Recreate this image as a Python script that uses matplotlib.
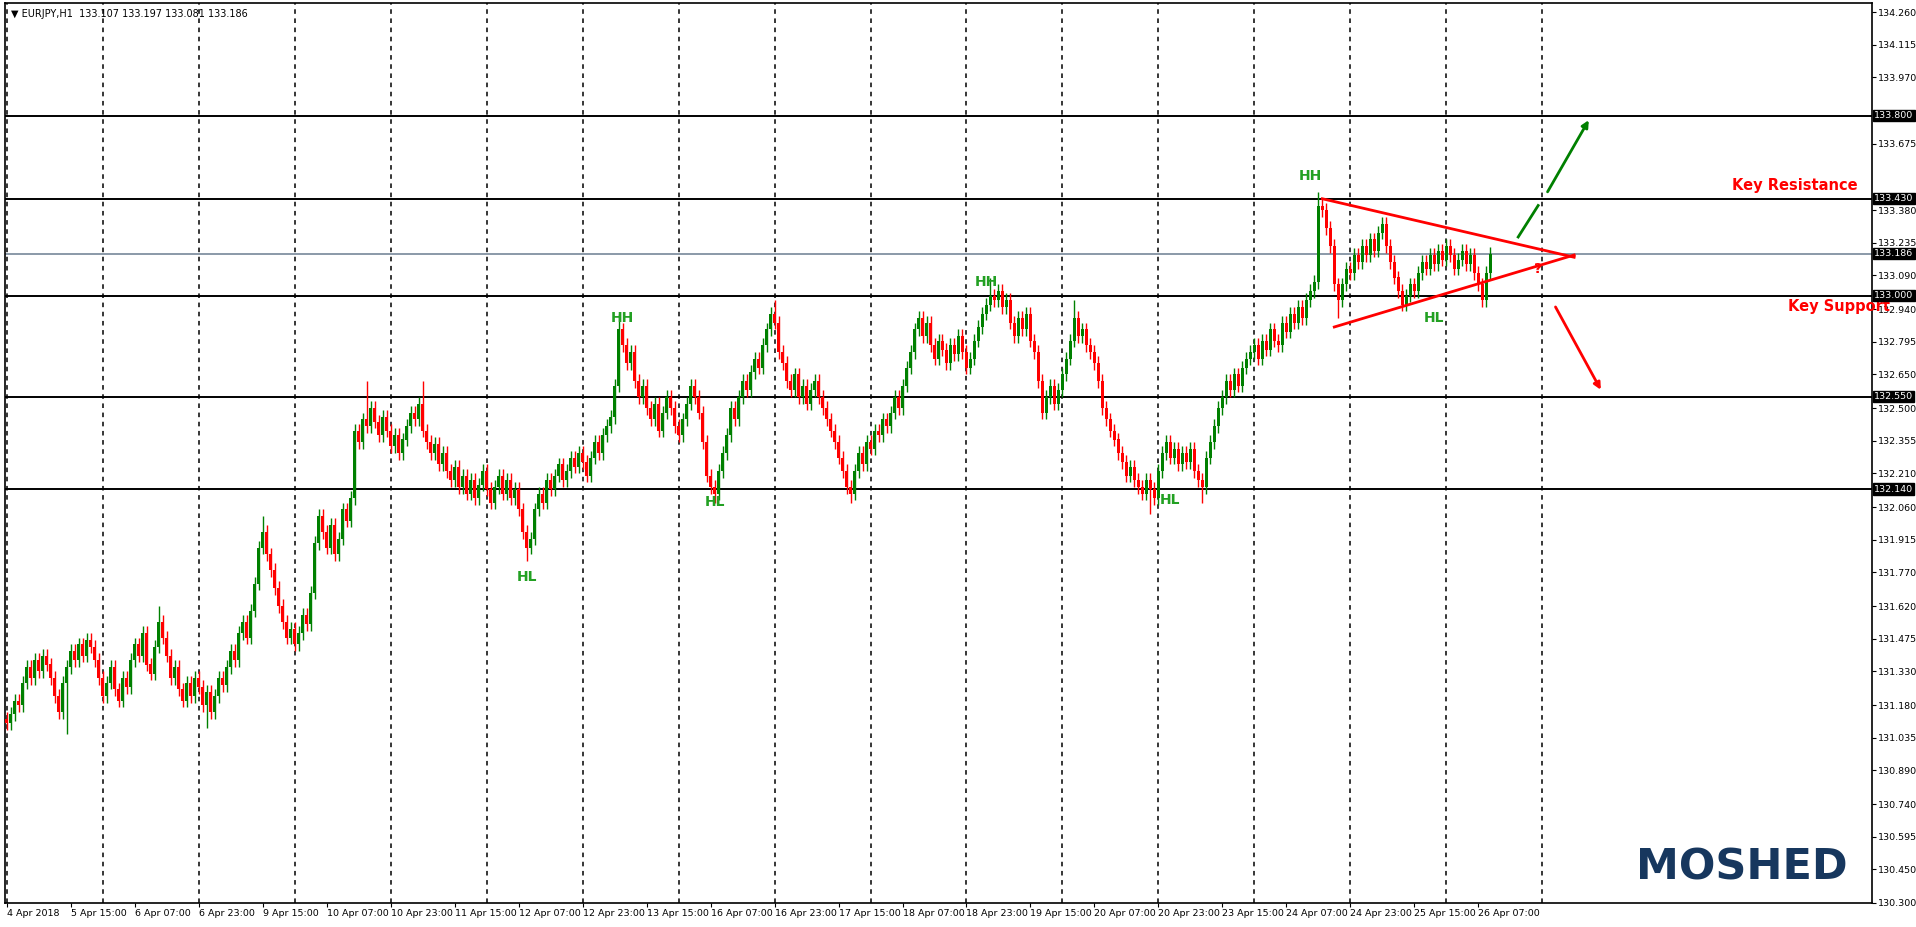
import numpy as np
import matplotlib
matplotlib.use("Agg")
import matplotlib.pyplot as plt

# hourly closes (open = previous close)
closes = [
    131.10, 131.14, 131.20, 131.18, 131.28, 131.35, 131.30, 131.38, 131.33, 131.40, 131.36, 131.30,
    131.22, 131.15, 131.28, 131.35, 131.42, 131.38, 131.45, 131.40, 131.47, 131.44, 131.38,
    131.30, 131.22, 131.28, 131.35, 131.25, 131.20, 131.30, 131.26, 131.38,
    131.45, 131.40, 131.50, 131.36, 131.32, 131.44, 131.55, 131.48, 131.40, 131.30, 131.35,
    131.25, 131.20, 131.28, 131.22, 131.30, 131.26, 131.18, 131.24, 131.15, 131.22, 131.30, 131.27,
    131.35, 131.42, 131.38, 131.50, 131.55, 131.48, 131.60, 131.72, 131.88, 131.95, 131.85,
    131.78, 131.70, 131.62, 131.55, 131.48, 131.52, 131.45, 131.50, 131.58, 131.54,
    131.68, 131.90, 132.02, 131.95, 131.88, 131.98, 131.85, 131.92, 132.05, 132.00, 132.10,
    132.40, 132.35, 132.45, 132.42, 132.50, 132.44, 132.38, 132.46, 132.40, 132.33, 132.38,
    132.30, 132.36, 132.42, 132.48, 132.45, 132.52, 132.40, 132.35, 132.30, 132.34,
    132.25, 132.30, 132.22, 132.18, 132.24, 132.15, 132.20, 132.12, 132.18, 132.10, 132.16,
    132.22, 132.14, 132.08, 132.15, 132.20, 132.12, 132.18, 132.10, 132.14, 132.05, 131.95, 131.88,
    131.92, 132.05, 132.12, 132.08, 132.18, 132.14, 132.20, 132.25, 132.18, 132.22, 132.28,
    132.24, 132.30, 132.26, 132.20, 132.28, 132.35, 132.30, 132.38, 132.42, 132.46,
    132.60, 132.85, 132.78, 132.70, 132.75, 132.62, 132.55, 132.60, 132.50, 132.45, 132.52,
    132.40, 132.48, 132.55, 132.50, 132.42, 132.38, 132.45, 132.52, 132.60, 132.55, 132.48,
    132.35, 132.20, 132.15, 132.12, 132.22,
    132.30, 132.38, 132.50, 132.45, 132.55, 132.62, 132.58, 132.66, 132.72, 132.68, 132.78,
    132.85, 132.92, 132.88,
    132.75, 132.70, 132.62, 132.58, 132.65, 132.55, 132.60, 132.52, 132.58, 132.62, 132.55,
    132.50, 132.45, 132.40, 132.35, 132.28, 132.22, 132.15,
    132.12, 132.22, 132.30, 132.25, 132.35, 132.32, 132.40, 132.38, 132.45, 132.42, 132.48,
    132.55, 132.50, 132.60,
    132.68, 132.75, 132.85, 132.90, 132.82, 132.88, 132.78, 132.72, 132.80, 132.76,
    132.70, 132.78, 132.74, 132.82, 132.75, 132.68, 132.72, 132.80, 132.86,
    132.92, 132.96, 133.00, 132.98, 133.02, 132.95, 132.98,
    132.88, 132.82, 132.90, 132.85, 132.92, 132.80, 132.75, 132.62,
    132.48, 132.55, 132.60, 132.52, 132.58, 132.65, 132.72, 132.80, 132.90, 132.82, 132.85,
    132.78, 132.75, 132.70,
    132.62, 132.50, 132.45, 132.40, 132.36, 132.30, 132.26, 132.20, 132.24, 132.18, 132.15,
    132.12, 132.18, 132.14, 132.10,
    132.22, 132.30, 132.35, 132.28, 132.32, 132.25, 132.30, 132.26, 132.32, 132.22, 132.18, 132.15,
    132.28, 132.35, 132.42, 132.50, 132.55, 132.62, 132.58, 132.65, 132.60, 132.68, 132.72, 132.75,
    132.78, 132.72, 132.80, 132.76, 132.85, 132.80, 132.78, 132.88, 132.84, 132.92, 132.88,
    132.95, 132.90, 132.98, 133.02, 133.06,
    133.40, 133.38, 133.30, 133.22, 133.05, 132.98,
    133.05, 133.12, 133.10, 133.18, 133.15, 133.22, 133.18, 133.25, 133.20, 133.28, 133.32,
    133.22, 133.15,
    133.08, 133.02, 132.96, 133.00, 133.05, 133.02,
    133.10, 133.15, 133.12, 133.18, 133.14, 133.20, 133.16, 133.22, 133.18, 133.12, 133.16,
    133.20, 133.14, 133.18, 133.10, 133.05, 132.98, 133.10, 133.186,
]
first_open = 131.12
wick = 0.03
# notable wick extremes: bar -> (high, low); None keeps the default
extremes = {15: (None, 131.05), 38: (131.62, None), 50: (None, 131.08), 64: (132.02, None),
            90: (132.62, None), 104: (132.62, None), 130: (None, 131.82), 153: (132.92, None),
            177: (None, 132.08), 192: (132.98, None), 211: (None, 132.08), 246: (133.08, None),
            267: (132.98, None), 286: (None, 132.03), 299: (None, 132.08), 328: (133.46, None),
            333: (None, 132.90), 370: (None, 132.95)}

levels = [133.80, 133.43, 133.00, 132.55, 132.14]
last_price = 133.186
price_ticks = [134.260, 134.115, 133.970, 133.675, 133.380, 133.235, 133.090, 132.940, 132.795,
               132.650, 132.500, 132.355, 132.210, 132.060, 131.915, 131.770, 131.620, 131.475,
               131.330, 131.180, 131.035, 130.890, 130.740, 130.595, 130.450, 130.300]
date_labels = ["4 Apr 2018", "5 Apr 15:00", "6 Apr 07:00", "6 Apr 23:00", "9 Apr 15:00",
               "10 Apr 07:00", "10 Apr 23:00", "11 Apr 15:00", "12 Apr 07:00", "12 Apr 23:00",
               "13 Apr 15:00", "16 Apr 07:00", "16 Apr 23:00", "17 Apr 15:00", "18 Apr 07:00",
               "18 Apr 23:00", "19 Apr 15:00", "20 Apr 07:00", "20 Apr 23:00", "23 Apr 15:00",
               "24 Apr 07:00", "24 Apr 23:00", "25 Apr 15:00", "26 Apr 07:00"]
swing_labels = [("HH", 326, 133.53), ("HH", 154, 132.90), ("HH", 245, 133.06), ("HL", 130, 131.75),
                ("HL", 177, 132.08), ("HL", 291, 132.09), ("HL", 357, 132.90)]
tri_upper = [(329, 133.43), (392, 133.17)]
tri_lower = [(332, 132.86), (392, 133.18)]

GREEN, RED = "#008000", "#ff0000"

c = np.array(closes)
o = np.concatenate([[first_open], c[:-1]])
n = len(c)
idx = np.arange(n)
hi = np.maximum(o, c) + wick
lo = np.minimum(o, c) - wick
for k, (h, l) in extremes.items():
    if h is not None: hi[k] = h
    if l is not None: lo[k] = l
up = c >= o
cols = np.where(up, GREEN, RED)

fig = plt.figure(figsize=(19.16, 9.27), dpi=100)
ax = fig.add_axes([5 / 1916, 24 / 927, 1867 / 1916, 900 / 927])
ax.set_xlim(-0.5, 466.5)
ax.set_ylim(130.30, 134.30)

for k in range(0, 385, 24):
    ax.axvline(k, color="black", ls=(0, (3, 3)), lw=1.1, zorder=0)
for lv in levels:
    ax.axhline(lv, color="black", lw=1.4, zorder=1)
ax.axhline(last_price, color="#778899", lw=1.2, zorder=1)

ax.vlines(idx, lo, hi, colors=cols, lw=1.0, zorder=2)
ax.bar(idx, np.maximum(np.abs(c - o), 0.004), bottom=np.minimum(o, c), width=0.75,
       color=cols, zorder=3)

for (a, b) in (tri_upper, tri_lower):
    ax.plot([a[0], b[0]], [a[1], b[1]], color=RED, lw=2, zorder=4)
ax.plot([378, 383], [133.26, 133.40], color=GREEN, lw=2)
ax.annotate("", xy=(396, 133.79), xytext=(385, 133.45),
            arrowprops=dict(arrowstyle="-|>", color=GREEN, lw=2, mutation_scale=10))
ax.annotate("", xy=(399, 132.57), xytext=(387, 132.96),
            arrowprops=dict(arrowstyle="-|>", color=RED, lw=2, mutation_scale=10))
ax.text(383, 133.12, "?", color=RED, fontsize=10, fontweight="bold", ha="center", va="center")

for t, x, y in swing_labels:
    ax.text(x, y, t, color="#22a022", fontsize=10, fontweight="bold", ha="center", va="center")
ax.text(463, 133.49, "Key Resistance", color=RED, fontsize=10.5, fontweight="bold",
        ha="right", va="center")
ax.text(471, 132.95, "Key Support", color=RED, fontsize=10.5, fontweight="bold",
        ha="right", va="center", clip_on=False)
ax.text(0.987, 0.039, "MOSHED", transform=ax.transAxes, color="#17375e", fontsize=31,
        fontweight="bold", ha="right", va="center")
ax.text(0.003, 0.993, "\u25bc EURJPY,H1  133.107 133.197 133.081 133.186", transform=ax.transAxes,
        fontsize=7, ha="left", va="top")

ax.yaxis.tick_right()
ax.set_yticks(price_ticks)
ax.set_yticklabels([f"{v:.3f}" for v in price_ticks])
ax.set_xticks(np.arange(len(date_labels)) * 16)
ax.set_xticklabels(date_labels, ha="left")
ax.tick_params(axis="both", labelsize=6.8, length=3, pad=1.5)
for lv in levels + [last_price]:
    ax.text(1.0012, lv, f"{lv:.3f}", transform=ax.get_yaxis_transform(), fontsize=6.8,
            color="white", ha="left", va="center",
            bbox=dict(boxstyle="square,pad=0.12", fc="black", ec="black"))
for s in ax.spines.values():
    s.set_linewidth(1.2)

fig.savefig("out.png", dpi=100)
